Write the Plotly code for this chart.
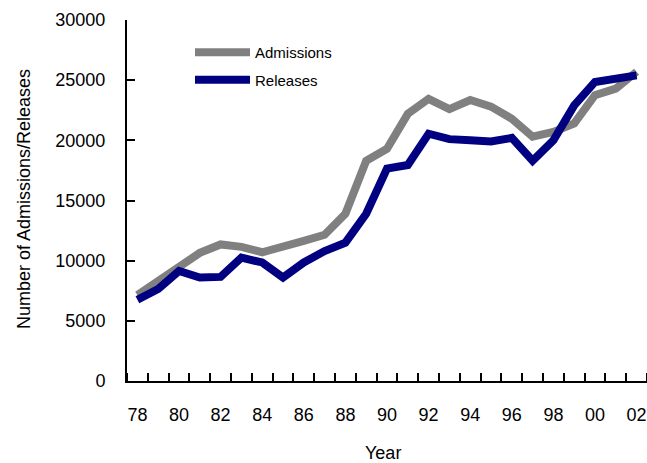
import plotly.graph_objects as go

years = list(range(1978, 2003))
year_labels = ["78", "80", "82", "84", "86", "88", "90", "92", "94", "96", "98", "00", "02"]
admissions = [7150, 8300, 9450, 10650, 11350, 11150, 10700, 11100, 11650, 12150, 13900,
              18300, 19300, 22200, 23450, 22600, 23350, 22800, 21800, 20300, 20700, 21400,
              23750, 24300, 25700]
releases = [6750, 7650, 9150, 8600, 8650, 10250, 9850, 8600, 9850, 10800, 11500,
            13900, 17650, 17950, 20550, 20100, 20000, 19900, 20200, 18300, 20000, 22900,
            24850, 25050, 25400]

FONT = "Liberation Sans, Arial, sans-serif"
L, R, T, B = 127, 0, 20, 82
W, H = 647, 463
PW, PH = W - L - R, H - T - B

fig = go.Figure()
fig.add_trace(go.Scatter(x=years, y=admissions, mode="lines", name="Admissions",
                         legendgroup="a",
                         line=dict(color="#808080", width=8)))
fig.add_trace(go.Scatter(x=years, y=releases, mode="lines", name="Releases",
                         legendgroup="r",
                         line=dict(color="#000080", width=8)))

fig.update_layout(
    width=W, height=H,
    margin=dict(l=L, r=R, t=T, b=B, autoexpand=False),
    paper_bgcolor="white", plot_bgcolor="white",
    font=dict(family=FONT, size=18, color="black"),
    showlegend=True,
    legend=dict(x=(190 - L) / PW, y=1 - (36 - T) / PH, xanchor="left", yanchor="top",
                bgcolor="rgba(0,0,0,0)", font=dict(size=15),
                tracegroupgap=5, itemwidth=55),
    xaxis=dict(
        range=[1977.5, 2002.5],
        tickmode="array",
        tickvals=years[::2],
        ticktext=year_labels,
        ticks="",
        showline=True, linecolor="black", linewidth=2,
        showgrid=False, zeroline=False,
        automargin=False,
        ticklabelstandoff=16,
        ticklabeloverflow="allow",
        minor=dict(tick0=1977.5, dtick=1, ticks="inside", ticklen=8,
                   tickwidth=2, tickcolor="black", showgrid=False),
    ),
    yaxis=dict(
        range=[0, 30000],
        tickmode="linear", tick0=0, dtick=5000, tickformat="d",
        ticks="inside", ticklen=8, tickwidth=2, tickcolor="black",
        showline=True, linecolor="black", linewidth=2,
        showgrid=False, zeroline=False,
        automargin=False,
        ticklabelstandoff=16,
    ),
    annotations=[
        dict(text="Year", xref="paper", yref="paper",
             x=(383 - L) / PW, y=-(453 - (T + PH)) / PH,
             xanchor="center", yanchor="middle", showarrow=False,
             font=dict(size=18)),
        dict(text="Number of Admissions/Releases", xref="paper", yref="paper",
             x=-(L - 24) / PW, y=1 - (199 - T) / PH, textangle=-90,
             xanchor="center", yanchor="middle", showarrow=False,
             font=dict(size=18)),
    ],
)

fig.write_html(
    "out.html",
    config={"displayModeBar": False},
    post_script="document.body.style.margin='0';document.body.style.overflow='hidden';",
)
